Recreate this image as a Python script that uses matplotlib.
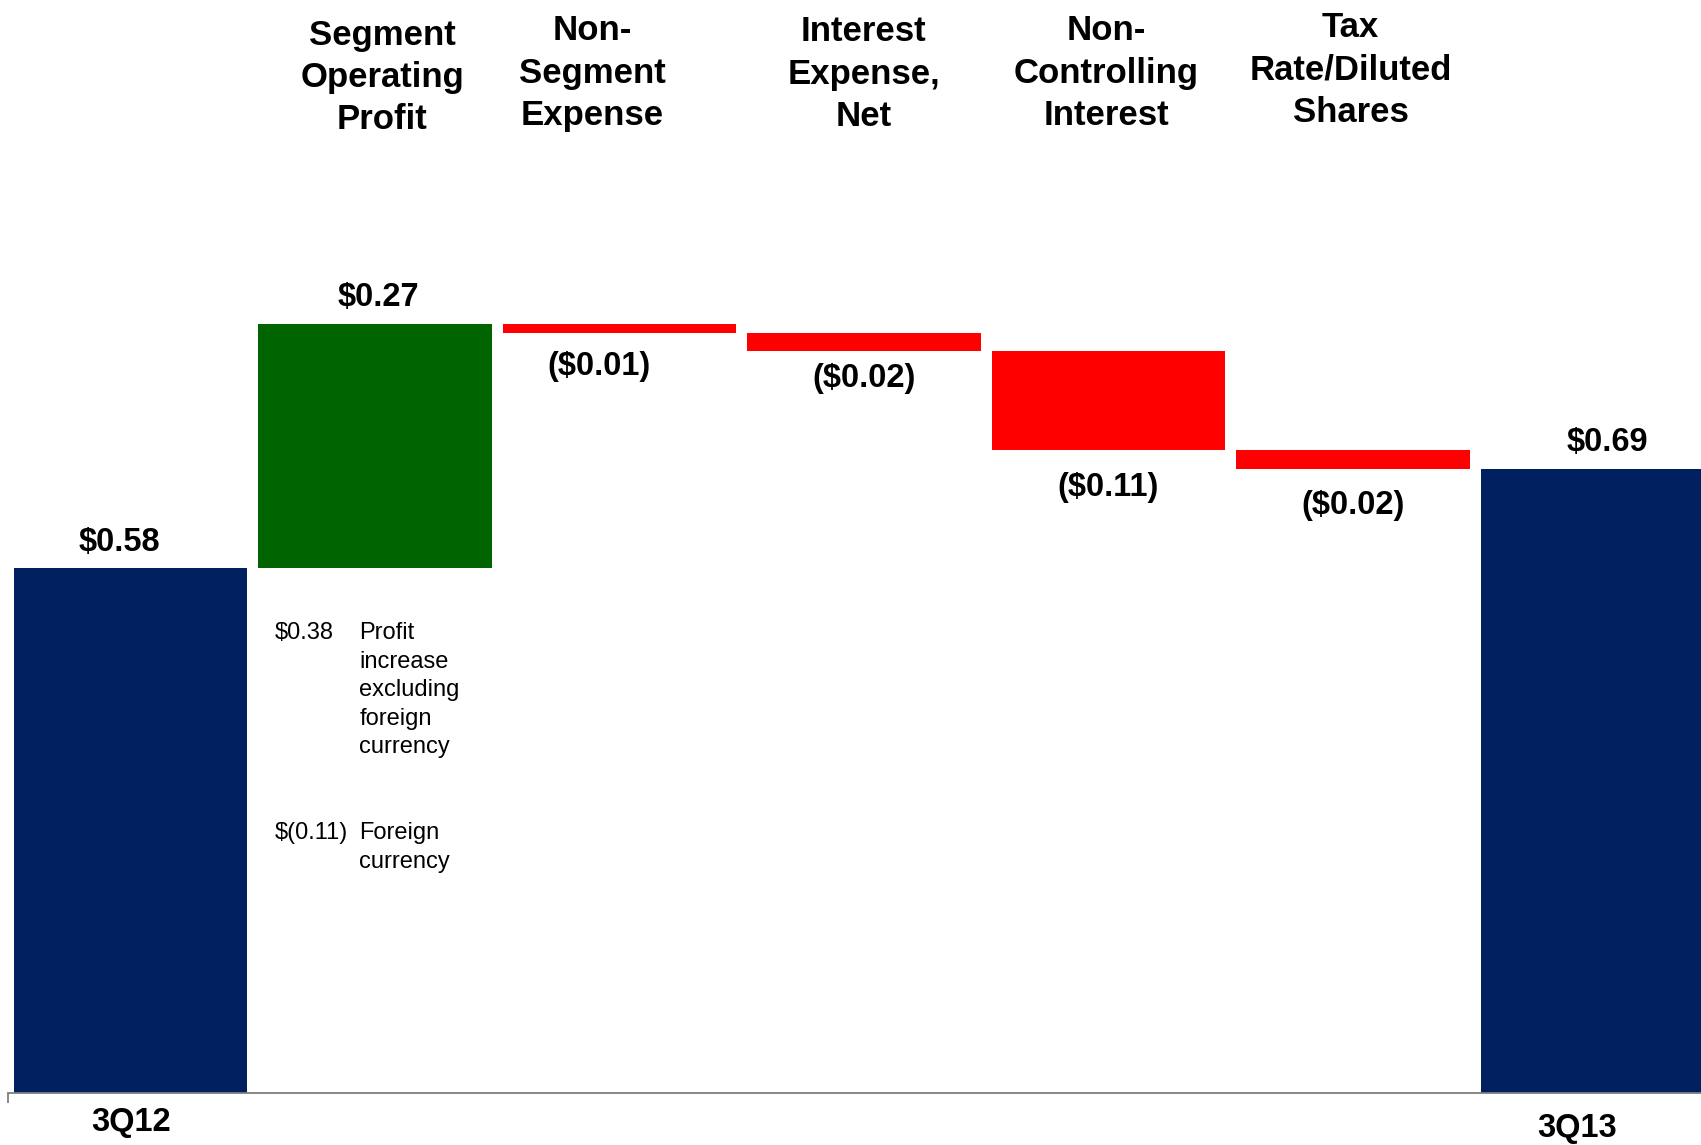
import matplotlib
matplotlib.use("Agg")
import matplotlib.pyplot as plt
import numpy as np

plt.rcParams['font.family'] = ['Liberation Sans', 'DejaVu Sans']

# EPS bridge 3Q12 -> 3Q13
categories = ["3Q12", "Segment\nOperating\nProfit", "Non-\nSegment\nExpense",
              "Interest\nExpense,\nNet", "Non-\nControlling\nInterest",
              "Tax\nRate/Diluted\nShares", "3Q13"]
start_value = 0.58
changes = [0.27, -0.01, -0.02, -0.11, -0.02]
end_value = 0.69
value_labels = ["$0.58", "$0.27", "($0.01)", "($0.02)", "($0.11)", "($0.02)", "$0.69"]
breakdown_values = ["$0.38", "$(0.11)"]
breakdown_notes = ["Profit\nincrease\nexcluding\nforeign\ncurrency", "Foreign\ncurrency"]

NAVY = "#002060"
GREEN = "#006400"
RED = "#FF0000"

# build waterfall
levels = start_value + np.cumsum(changes)
prev = np.concatenate([[start_value], levels[:-1]])
heights = [start_value] + list(np.abs(changes)) + [end_value]
bottoms = [0] + list(np.minimum(prev, levels)) + [0]
tops = [b + h for b, h in zip(bottoms, heights)]
colors = [NAVY] + [GREEN if c > 0 else RED for c in changes] + [NAVY]
x = np.arange(len(categories))

fig = plt.figure(figsize=(17.01, 11.45), dpi=100)
ax = fig.add_axes([8 / 1701, 52 / 1145, 1 - 8 / 1701, 1093 / 1145])

ax.bar(x, heights, bottom=bottoms, width=0.955, color=colors, linewidth=0, zorder=2)

ax.set_xlim(-0.5, 6.423)
ax.set_ylim(0, 1093 / 905)

for s in ["top", "right", "left"]:
    ax.spines[s].set_visible(False)
ax.spines["bottom"].set_color("#7f7f7f")
ax.spines["bottom"].set_linewidth(1.3)
ax.set_yticks([])
ax.set_xticks([])
ax.set_xticks([-0.5], minor=True)
ax.tick_params(axis="x", which="minor", length=7, width=1.3, color="#7f7f7f")
ax.tick_params(axis="x", which="minor", labelbottom=False)

# value labels
label_dx = [-11, 4, -20, 0, 0, 0, 10]
label_dy = [26, 26, -34, -28, -37, -37, 26]
for i, lab in enumerate(value_labels):
    anchor = tops[i] if label_dy[i] > 0 else bottoms[i]
    ax.annotate(lab, xy=(x[i], anchor), xytext=(label_dx[i], label_dy[i]),
                textcoords="offset pixels", ha="center", va="center",
                fontsize=23.5, fontweight="bold")

# headers for the bridge steps
header_dx = [0.03, -0.11, 0.0, -0.01, -0.01]
header_y = [0.929, 0.933, 0.932, 0.933, 0.936]
for i in range(1, len(categories) - 1):
    ax.text(x[i] + header_dx[i - 1], header_y[i - 1], categories[i],
            transform=ax.get_xaxis_transform(),
            ha="center", va="center", fontsize=25, fontweight="bold",
            linespacing=1.36)

# period labels under the axis
ax.annotate(categories[0], xy=(x[0], 0), xytext=(1, -30), textcoords="offset pixels",
            ha="center", va="center", fontsize=23.5, fontweight="bold",
            annotation_clip=False)
ax.annotate(categories[-1], xy=(x[-1], 0), xytext=(-21, -35), textcoords="offset pixels",
            ha="center", va="center", fontsize=23.5, fontweight="bold",
            annotation_clip=False)

# breakdown note under the green bar
note_tops = [0.520, 0.299]
for val, note, yt in zip(breakdown_values, breakdown_notes, note_tops):
    ax.text(0.589, yt, val, ha="left", va="top", fontsize=17)
    ax.text(0.936, yt, note, ha="left", va="top", fontsize=17, linespacing=1.38)

fig.savefig("out.png", dpi=100, facecolor="white")
